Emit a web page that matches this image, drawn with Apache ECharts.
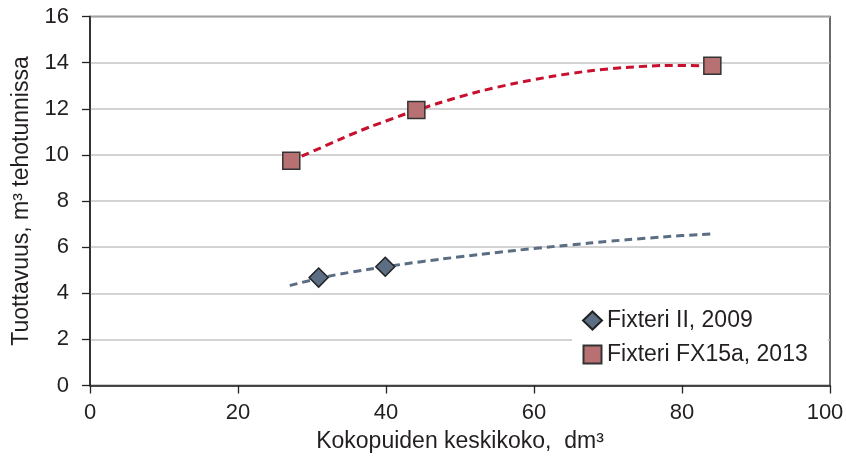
<!DOCTYPE html>
<html>
<head>
<meta charset="utf-8">
<script src="https://cdn.jsdelivr.net/npm/echarts@6/dist/echarts.min.js"></script>
<style>
html,body{margin:0;padding:0;background:#fff;}
#chart{width:846px;height:459px;}
</style>
</head>
<body>
<div id="chart"></div>
<script>
// Measured points
const seriesNames = ['Fixteri II, 2009', 'Fixteri FX15a, 2013'];
const fixteriIIX = [30.9, 39.9];
const fixteriIIY = [4.68, 5.15];
const fx15aX = [27.2, 44.1, 84.1];
const fx15aY = [9.74, 11.95, 13.86];

// Trend lines
const trendIIX = [27, 31, 35, 40, 45, 50, 55, 60, 65, 70, 75, 80, 84];
const trendIIY = [4.33, 4.65, 4.9, 5.15, 5.38, 5.58, 5.77, 5.94, 6.1, 6.25, 6.38, 6.5, 6.57];
const trendFXX = [27, 32, 36, 40, 44.1, 50, 55, 60, 65, 70, 75, 80, 84];
const trendFXY = [9.72, 10.42, 10.98, 11.47, 11.93, 12.52, 12.93, 13.26, 13.53, 13.72, 13.84, 13.88, 13.85];

const xTicks = { min: 0, max: 100, interval: 20 };
const yTicks = { min: 0, max: 16, interval: 2 };

const pairs = (xs, ys) => xs.map((x, i) => [x, ys[i]]);

const FONT = '"Liberation Sans", Arial, sans-serif';
const TXT = '#231f20';

const chart = echarts.init(document.getElementById('chart'), null, { renderer: 'canvas' });
chart.setOption({
  animation: false,
  backgroundColor: '#ffffff',
  textStyle: { fontFamily: FONT, color: TXT },
  grid: {
    left: 90, right: 16, top: 16.5, bottom: 73.5,
    outerBoundsMode: 'none', containLabel: false,
    show: true, borderColor: '#3a3a3a', borderWidth: 1.5, backgroundColor: 'transparent'
  },
  xAxis: {
    type: 'value', min: xTicks.min, max: xTicks.max, interval: xTicks.interval,
    name: 'Kokopuiden keskikoko,  dm³',
    nameLocation: 'middle', nameGap: 45,
    nameTextStyle: { fontSize: 23, color: TXT, fontFamily: FONT },
    axisLine: { show: true, onZero: false, lineStyle: { color: '#222', width: 1.5 } },
    axisTick: { show: true, inside: false, length: 8, lineStyle: { color: '#222', width: 1.3 } },
    axisLabel: {
      fontSize: 22, color: TXT, margin: 16, fontFamily: FONT,
      formatter: v => (v === xTicks.max ? '{m|' + v + '}' : String(v)),
      rich: { m: { fontSize: 22, color: TXT, fontFamily: FONT, padding: [0, 10, 0, 0] } }
    },
    splitLine: { show: false }
  },
  yAxis: {
    type: 'value', min: yTicks.min, max: yTicks.max, interval: yTicks.interval,
    name: 'Tuottavuus, m³ tehotunnissa',
    nameLocation: 'middle', nameGap: 56, nameRotate: 90,
    nameTextStyle: { fontSize: 23, color: TXT, fontFamily: FONT },
    axisLine: { show: true, onZero: false, lineStyle: { color: '#222', width: 1.5 } },
    axisTick: { show: true, inside: false, length: 8, lineStyle: { color: '#222', width: 1.3 } },
    axisLabel: { fontSize: 22, color: TXT, margin: 21, fontFamily: FONT },
    splitLine: { show: true, lineStyle: { color: '#c4c4c4', width: 1.5 } }
  },
  legend: {
    orient: 'vertical',
    left: 572, top: 299,
    padding: [10, 20, 10, 10],
    backgroundColor: '#ffffff',
    itemWidth: 19, itemHeight: 18, itemGap: 11,
    textStyle: { fontSize: 23, color: TXT, fontFamily: FONT },
    data: [
      { name: seriesNames[0], icon: 'diamond' },
      { name: seriesNames[1], icon: 'path://M0,0L16,0L16,16L0,16Z' }
    ]
  },
  series: [
    {
      name: 'trendII', type: 'line', data: pairs(trendIIX, trendIIY),
      smooth: true, showSymbol: false, symbol: 'none', z: 2,
      lineStyle: { color: '#5a6d82', width: 3, type: [8, 5] }
    },
    {
      name: 'trendFX', type: 'line', data: pairs(trendFXX, trendFXY),
      smooth: true, showSymbol: false, symbol: 'none', z: 2,
      lineStyle: { color: '#c8102e', width: 3, type: [8, 5] }
    },
    {
      name: seriesNames[0], type: 'scatter', data: pairs(fixteriIIX, fixteriIIY),
      symbol: 'diamond', symbolSize: 19, z: 5,
      itemStyle: { color: '#5b6e84', borderColor: '#222', borderWidth: 1.5, opacity: 1 }
    },
    {
      name: seriesNames[1], type: 'scatter', data: pairs(fx15aX, fx15aY),
      symbol: 'rect', symbolSize: 17, z: 5,
      itemStyle: { color: '#b77172', borderColor: '#333', borderWidth: 1.5, opacity: 1 }
    }
  ]
});
</script>
</body>
</html>
